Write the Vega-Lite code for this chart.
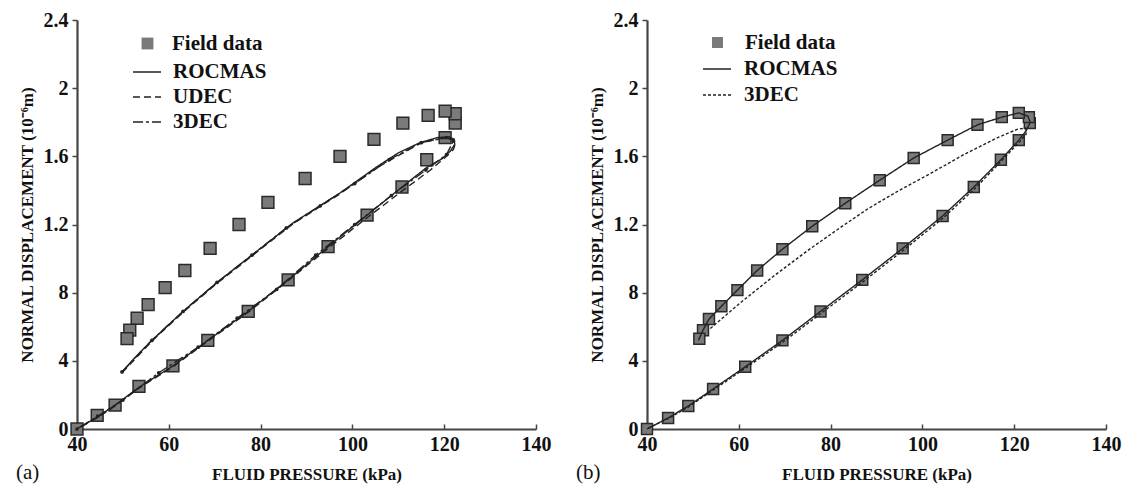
{
  "$schema": "https://vega.github.io/schema/vega-lite/v6.json",
  "background": "white",
  "padding": {"left": 16, "top": 10, "right": 5, "bottom": 5},
  "config": {
    "view": {"stroke": null},
    "font": "Liberation Serif",
    "axis": {
      "grid": false,
      "domainColor": "#444",
      "domainWidth": 2.2,
      "tickColor": "#444",
      "tickWidth": 1.5,
      "labelFont": "Liberation Serif",
      "labelFontWeight": "bold",
      "labelFontSize": 20,
      "labelColor": "#111",
      "labelOverlap": false,
      "labelFlush": false,
      "titleFont": "Liberation Serif",
      "titleFontWeight": "bold",
      "titleFontSize": 17,
      "titleColor": "#111"
    },
    "legend": {
      "labelFont": "Liberation Serif",
      "labelFontWeight": "bold",
      "labelFontSize": 21,
      "labelColor": "#111",
      "padding": 0,
      "rowPadding": 0,
      "labelLimit": 0
    }
  },
  "datasets": {
    "a": [
      {"series": "Field data", "i": 1, "P": 40, "D": 0},
      {"series": "Field data", "i": 2, "P": 44.4, "D": 0.08},
      {"series": "Field data", "i": 3, "P": 48.3, "D": 0.14},
      {"series": "Field data", "i": 4, "P": 53.5, "D": 0.25},
      {"series": "Field data", "i": 5, "P": 60.9, "D": 0.37},
      {"series": "Field data", "i": 6, "P": 68.5, "D": 0.52},
      {"series": "Field data", "i": 7, "P": 77.3, "D": 0.69},
      {"series": "Field data", "i": 8, "P": 86, "D": 0.875},
      {"series": "Field data", "i": 9, "P": 94.7, "D": 1.07},
      {"series": "Field data", "i": 10, "P": 103.2, "D": 1.255},
      {"series": "Field data", "i": 11, "P": 110.8, "D": 1.42},
      {"series": "Field data", "i": 12, "P": 116.2, "D": 1.58},
      {"series": "Field data", "i": 13, "P": 120.2, "D": 1.71},
      {"series": "Field data", "i": 14, "P": 122.4, "D": 1.795},
      {"series": "Field data", "i": 15, "P": 122.4, "D": 1.85},
      {"series": "Field data", "i": 16, "P": 120.2, "D": 1.865},
      {"series": "Field data", "i": 17, "P": 116.5, "D": 1.84},
      {"series": "Field data", "i": 18, "P": 111, "D": 1.795},
      {"series": "Field data", "i": 19, "P": 104.7, "D": 1.7},
      {"series": "Field data", "i": 20, "P": 97.3, "D": 1.6},
      {"series": "Field data", "i": 21, "P": 89.7, "D": 1.47},
      {"series": "Field data", "i": 22, "P": 81.6, "D": 1.33},
      {"series": "Field data", "i": 23, "P": 75.3, "D": 1.2},
      {"series": "Field data", "i": 24, "P": 69, "D": 1.06},
      {"series": "Field data", "i": 25, "P": 63.5, "D": 0.93},
      {"series": "Field data", "i": 26, "P": 59.2, "D": 0.83},
      {"series": "Field data", "i": 27, "P": 55.5, "D": 0.73},
      {"series": "Field data", "i": 28, "P": 53.1, "D": 0.65},
      {"series": "Field data", "i": 29, "P": 51.5, "D": 0.58},
      {"series": "Field data", "i": 30, "P": 50.9, "D": 0.53},

      {"series": "ROCMAS", "i": 1, "P": 49.8, "D": 0.335},
      {"series": "ROCMAS", "i": 2, "P": 53, "D": 0.43},
      {"series": "ROCMAS", "i": 3, "P": 56.3, "D": 0.52},
      {"series": "ROCMAS", "i": 4, "P": 63.1, "D": 0.69},
      {"series": "ROCMAS", "i": 5, "P": 70.5, "D": 0.86},
      {"series": "ROCMAS", "i": 6, "P": 78.1, "D": 1.02},
      {"series": "ROCMAS", "i": 7, "P": 87.1, "D": 1.21},
      {"series": "ROCMAS", "i": 8, "P": 97.3, "D": 1.385},
      {"series": "ROCMAS", "i": 9, "P": 105.4, "D": 1.54},
      {"series": "ROCMAS", "i": 10, "P": 110, "D": 1.62},
      {"series": "ROCMAS", "i": 11, "P": 114.7, "D": 1.68},
      {"series": "ROCMAS", "i": 12, "P": 118.5, "D": 1.71},
      {"series": "ROCMAS", "i": 13, "P": 121, "D": 1.715},
      {"series": "ROCMAS", "i": 14, "P": 122.2, "D": 1.7},
      {"series": "ROCMAS", "i": 15, "P": 122.3, "D": 1.67},
      {"series": "ROCMAS", "i": 16, "P": 121.3, "D": 1.63},
      {"series": "ROCMAS", "i": 17, "P": 119.5, "D": 1.585},
      {"series": "ROCMAS", "i": 18, "P": 116.2, "D": 1.535},
      {"series": "ROCMAS", "i": 19, "P": 110.8, "D": 1.42},
      {"series": "ROCMAS", "i": 20, "P": 103.2, "D": 1.255},
      {"series": "ROCMAS", "i": 21, "P": 94.7, "D": 1.07},
      {"series": "ROCMAS", "i": 22, "P": 86, "D": 0.875},
      {"series": "ROCMAS", "i": 23, "P": 77.3, "D": 0.69},
      {"series": "ROCMAS", "i": 24, "P": 68.5, "D": 0.52},
      {"series": "ROCMAS", "i": 25, "P": 60.9, "D": 0.37},
      {"series": "ROCMAS", "i": 26, "P": 53.5, "D": 0.245},
      {"series": "ROCMAS", "i": 27, "P": 48.3, "D": 0.14},
      {"series": "ROCMAS", "i": 28, "P": 44.4, "D": 0.07},
      {"series": "ROCMAS", "i": 29, "P": 40, "D": 0},

      {"series": "UDEC", "i": 1, "P": 49.8, "D": 0.33},
      {"series": "UDEC", "i": 2, "P": 56.3, "D": 0.515},
      {"series": "UDEC", "i": 3, "P": 63.1, "D": 0.685},
      {"series": "UDEC", "i": 4, "P": 70.5, "D": 0.855},
      {"series": "UDEC", "i": 5, "P": 78.1, "D": 1.015},
      {"series": "UDEC", "i": 6, "P": 87.1, "D": 1.205},
      {"series": "UDEC", "i": 7, "P": 97.3, "D": 1.38},
      {"series": "UDEC", "i": 8, "P": 105.4, "D": 1.535},
      {"series": "UDEC", "i": 9, "P": 114.7, "D": 1.675},
      {"series": "UDEC", "i": 10, "P": 119, "D": 1.705},
      {"series": "UDEC", "i": 11, "P": 121.5, "D": 1.705},
      {"series": "UDEC", "i": 12, "P": 122.5, "D": 1.68},
      {"series": "UDEC", "i": 13, "P": 122, "D": 1.64},
      {"series": "UDEC", "i": 14, "P": 120.5, "D": 1.6},
      {"series": "UDEC", "i": 15, "P": 117, "D": 1.52},
      {"series": "UDEC", "i": 16, "P": 111, "D": 1.4},
      {"series": "UDEC", "i": 17, "P": 103.2, "D": 1.24},
      {"series": "UDEC", "i": 18, "P": 94.7, "D": 1.06},
      {"series": "UDEC", "i": 19, "P": 86, "D": 0.87},
      {"series": "UDEC", "i": 20, "P": 77.3, "D": 0.685},
      {"series": "UDEC", "i": 21, "P": 68.5, "D": 0.515},
      {"series": "UDEC", "i": 22, "P": 60.9, "D": 0.365},
      {"series": "UDEC", "i": 23, "P": 53.5, "D": 0.24},
      {"series": "UDEC", "i": 24, "P": 48.3, "D": 0.135},
      {"series": "UDEC", "i": 25, "P": 44.4, "D": 0.065},
      {"series": "UDEC", "i": 26, "P": 40, "D": 0},

      {"series": "3DEC", "i": 1, "P": 49.8, "D": 0.335},
      {"series": "3DEC", "i": 2, "P": 56.3, "D": 0.52},
      {"series": "3DEC", "i": 3, "P": 63.1, "D": 0.69},
      {"series": "3DEC", "i": 4, "P": 70.5, "D": 0.86},
      {"series": "3DEC", "i": 5, "P": 78.1, "D": 1.02},
      {"series": "3DEC", "i": 6, "P": 85.6, "D": 1.18},
      {"series": "3DEC", "i": 7, "P": 93, "D": 1.31},
      {"series": "3DEC", "i": 8, "P": 100.5, "D": 1.44},
      {"series": "3DEC", "i": 9, "P": 108, "D": 1.58},
      {"series": "3DEC", "i": 10, "P": 115, "D": 1.68},
      {"series": "3DEC", "i": 11, "P": 120.5, "D": 1.71},
      {"series": "3DEC", "i": 12, "P": 122, "D": 1.69},
      {"series": "3DEC", "i": 13, "P": 120.5, "D": 1.61},
      {"series": "3DEC", "i": 14, "P": 116, "D": 1.52},
      {"series": "3DEC", "i": 15, "P": 108.5, "D": 1.37},
      {"series": "3DEC", "i": 16, "P": 100.5, "D": 1.2},
      {"series": "3DEC", "i": 17, "P": 92, "D": 1.02},
      {"series": "3DEC", "i": 18, "P": 83.5, "D": 0.82},
      {"series": "3DEC", "i": 19, "P": 74.9, "D": 0.65},
      {"series": "3DEC", "i": 20, "P": 66.4, "D": 0.48},
      {"series": "3DEC", "i": 21, "P": 57.8, "D": 0.33},
      {"series": "3DEC", "i": 22, "P": 50, "D": 0.17},
      {"series": "3DEC", "i": 23, "P": 44.5, "D": 0.075},
      {"series": "3DEC", "i": 24, "P": 40, "D": 0}
    ],
    "b": [
      {"series": "Field data", "i": 1, "P": 40, "D": 0},
      {"series": "Field data", "i": 2, "P": 44.6, "D": 0.065},
      {"series": "Field data", "i": 3, "P": 49, "D": 0.135},
      {"series": "Field data", "i": 4, "P": 54.4, "D": 0.235},
      {"series": "Field data", "i": 5, "P": 61.4, "D": 0.365},
      {"series": "Field data", "i": 6, "P": 69.5, "D": 0.52},
      {"series": "Field data", "i": 7, "P": 77.8, "D": 0.69},
      {"series": "Field data", "i": 8, "P": 86.9, "D": 0.875},
      {"series": "Field data", "i": 9, "P": 95.7, "D": 1.06},
      {"series": "Field data", "i": 10, "P": 104.4, "D": 1.25},
      {"series": "Field data", "i": 11, "P": 111.2, "D": 1.42},
      {"series": "Field data", "i": 12, "P": 117.1, "D": 1.58},
      {"series": "Field data", "i": 13, "P": 121, "D": 1.695},
      {"series": "Field data", "i": 14, "P": 123.4, "D": 1.795},
      {"series": "Field data", "i": 15, "P": 123.2, "D": 1.83},
      {"series": "Field data", "i": 16, "P": 121, "D": 1.855},
      {"series": "Field data", "i": 17, "P": 117.3, "D": 1.83},
      {"series": "Field data", "i": 18, "P": 112, "D": 1.785},
      {"series": "Field data", "i": 19, "P": 105.5, "D": 1.695},
      {"series": "Field data", "i": 20, "P": 98.1, "D": 1.59},
      {"series": "Field data", "i": 21, "P": 90.7, "D": 1.46},
      {"series": "Field data", "i": 22, "P": 83.2, "D": 1.325},
      {"series": "Field data", "i": 23, "P": 76, "D": 1.19},
      {"series": "Field data", "i": 24, "P": 69.5, "D": 1.055},
      {"series": "Field data", "i": 25, "P": 64, "D": 0.93},
      {"series": "Field data", "i": 26, "P": 59.7, "D": 0.815},
      {"series": "Field data", "i": 27, "P": 56.2, "D": 0.72},
      {"series": "Field data", "i": 28, "P": 53.5, "D": 0.645},
      {"series": "Field data", "i": 29, "P": 52.2, "D": 0.58},
      {"series": "Field data", "i": 30, "P": 51.4, "D": 0.53},

      {"series": "ROCMAS", "i": 1, "P": 51.2, "D": 0.52},
      {"series": "ROCMAS", "i": 2, "P": 52.2, "D": 0.58},
      {"series": "ROCMAS", "i": 3, "P": 53.5, "D": 0.645},
      {"series": "ROCMAS", "i": 4, "P": 56.2, "D": 0.72},
      {"series": "ROCMAS", "i": 5, "P": 59.7, "D": 0.815},
      {"series": "ROCMAS", "i": 6, "P": 64, "D": 0.93},
      {"series": "ROCMAS", "i": 7, "P": 69.5, "D": 1.055},
      {"series": "ROCMAS", "i": 8, "P": 76, "D": 1.19},
      {"series": "ROCMAS", "i": 9, "P": 83.2, "D": 1.325},
      {"series": "ROCMAS", "i": 10, "P": 90.7, "D": 1.46},
      {"series": "ROCMAS", "i": 11, "P": 98.1, "D": 1.59},
      {"series": "ROCMAS", "i": 12, "P": 105.5, "D": 1.695},
      {"series": "ROCMAS", "i": 13, "P": 112, "D": 1.785},
      {"series": "ROCMAS", "i": 14, "P": 117.3, "D": 1.83},
      {"series": "ROCMAS", "i": 15, "P": 121, "D": 1.855},
      {"series": "ROCMAS", "i": 16, "P": 123, "D": 1.835},
      {"series": "ROCMAS", "i": 17, "P": 123.5, "D": 1.8},
      {"series": "ROCMAS", "i": 18, "P": 122.6, "D": 1.75},
      {"series": "ROCMAS", "i": 19, "P": 121, "D": 1.695},
      {"series": "ROCMAS", "i": 20, "P": 117.1, "D": 1.58},
      {"series": "ROCMAS", "i": 21, "P": 111.2, "D": 1.42},
      {"series": "ROCMAS", "i": 22, "P": 104.4, "D": 1.25},
      {"series": "ROCMAS", "i": 23, "P": 95.7, "D": 1.06},
      {"series": "ROCMAS", "i": 24, "P": 86.9, "D": 0.875},
      {"series": "ROCMAS", "i": 25, "P": 77.8, "D": 0.69},
      {"series": "ROCMAS", "i": 26, "P": 69.5, "D": 0.52},
      {"series": "ROCMAS", "i": 27, "P": 61.4, "D": 0.365},
      {"series": "ROCMAS", "i": 28, "P": 54.4, "D": 0.235},
      {"series": "ROCMAS", "i": 29, "P": 49, "D": 0.135},
      {"series": "ROCMAS", "i": 30, "P": 44.6, "D": 0.065},
      {"series": "ROCMAS", "i": 31, "P": 40, "D": 0},

      {"series": "3DEC", "i": 1, "P": 53.8, "D": 0.59},
      {"series": "3DEC", "i": 2, "P": 60.3, "D": 0.74},
      {"series": "3DEC", "i": 3, "P": 67.5, "D": 0.895},
      {"series": "3DEC", "i": 4, "P": 74.9, "D": 1.045},
      {"series": "3DEC", "i": 5, "P": 82, "D": 1.18},
      {"series": "3DEC", "i": 6, "P": 88, "D": 1.29},
      {"series": "3DEC", "i": 7, "P": 94.6, "D": 1.395},
      {"series": "3DEC", "i": 8, "P": 101.8, "D": 1.5},
      {"series": "3DEC", "i": 9, "P": 109, "D": 1.61},
      {"series": "3DEC", "i": 10, "P": 116.4, "D": 1.71},
      {"series": "3DEC", "i": 11, "P": 120.8, "D": 1.76},
      {"series": "3DEC", "i": 12, "P": 122.5, "D": 1.765},
      {"series": "3DEC", "i": 13, "P": 122.6, "D": 1.73},
      {"series": "3DEC", "i": 14, "P": 121.3, "D": 1.69},
      {"series": "3DEC", "i": 15, "P": 117.3, "D": 1.575},
      {"series": "3DEC", "i": 16, "P": 111.4, "D": 1.41},
      {"series": "3DEC", "i": 17, "P": 104.6, "D": 1.24},
      {"series": "3DEC", "i": 18, "P": 95.9, "D": 1.05},
      {"series": "3DEC", "i": 19, "P": 87.1, "D": 0.865},
      {"series": "3DEC", "i": 20, "P": 78, "D": 0.68},
      {"series": "3DEC", "i": 21, "P": 69.7, "D": 0.512},
      {"series": "3DEC", "i": 22, "P": 61.6, "D": 0.36},
      {"series": "3DEC", "i": 23, "P": 54.6, "D": 0.232},
      {"series": "3DEC", "i": 24, "P": 49.2, "D": 0.133},
      {"series": "3DEC", "i": 25, "P": 44.8, "D": 0.064},
      {"series": "3DEC", "i": 26, "P": 40.2, "D": 0.005}
    ]
  },
  "spacing": 111,
  "bounds": "flush",
  "resolve": {
    "scale": {"shape": "independent", "strokeDash": "independent"},
    "legend": {"shape": "independent", "strokeDash": "independent"}
  },
  "hconcat": [
    {
      "width": 459,
      "height": 409,
      "data": {"name": "a"},
      "title": {"text": "(a)", "orient": "bottom", "anchor": "start", "frame": "bounds", "offset": -20, "dx": -2, "font": "Liberation Serif", "fontSize": 21, "fontWeight": "normal", "color": "#111"},
      "layer": [
        {
          "transform": [{"filter": "datum.series == 'Field data'"}],
          "mark": {"type": "point", "filled": true, "size": 140, "fill": "#7a7a7a", "stroke": "#2a2a2a", "strokeWidth": 1.5, "opacity": 1},
          "encoding": {
            "x": {"field": "P", "type": "quantitative", "scale": {"domain": [40, 140], "nice": false, "zero": false},
              "axis": {"title": "FLUID PRESSURE (kPa)", "values": [40, 60, 80, 100, 120, 140], "tickSize": -5, "labelPadding": 10, "titlePadding": 12}},
            "y": {"field": "D", "type": "quantitative", "scale": {"domain": [0, 2.4], "nice": false},
              "axis": {"title": "NORMAL DISPLACEMENT (10⁻⁶m)", "values": [0, 0.2, 0.4, 0.6, 0.8, 1, 1.2, 1.4, 1.6, 1.8, 2, 2.2, 2.4], "tickSize": 5, "labelPadding": 4, "titlePadding": 7,
                "labelExpr": "round(datum.value*10)==0?'0':round(datum.value*10)==4?'4':round(datum.value*10)==8?'8':round(datum.value*10)==12?'1.2':round(datum.value*10)==16?'1.6':round(datum.value*10)==20?'2':round(datum.value*10)==24?'2.4':''"}},
            "shape": {"field": "series", "type": "nominal", "scale": {"domain": ["Field data"], "range": ["square"]},
              "legend": {"title": null, "orient": "none", "legendX": 60, "legendY": 13, "symbolType": "square", "symbolSize": 140, "symbolFillColor": "#7a7a7a", "symbolStrokeColor": "#2a2a2a", "symbolStrokeWidth": 1.5, "labelOffset": 14}}
          }
        },
        {
          "transform": [{"filter": "datum.series != 'Field data'"}],
          "mark": {"type": "line", "strokeWidth": 1.4, "color": "#222"},
          "encoding": {
            "x": {"field": "P", "type": "quantitative"},
            "y": {"field": "D", "type": "quantitative"},
            "order": {"field": "i", "type": "quantitative"},
            "strokeDash": {"field": "series", "type": "nominal", "scale": {"domain": ["ROCMAS", "UDEC", "3DEC"], "range": [[1, 0], [7, 4], [10, 3, 3, 3]]},
              "legend": {"title": null, "orient": "none", "legendX": 55, "legendY": 37, "symbolType": "stroke", "symbolSize": 784, "symbolStrokeColor": "#222", "symbolStrokeWidth": 1.5, "labelOffset": 11, "rowPadding": -3}}
          }
        },
        {
          "transform": [{"filter": "datum.series == '3DEC'"}],
          "mark": {"type": "point", "filled": true, "size": 14, "color": "#222", "opacity": 1},
          "encoding": {
            "x": {"field": "P", "type": "quantitative"},
            "y": {"field": "D", "type": "quantitative"}
          }
        }
      ]
    },
    {
      "width": 459,
      "height": 409,
      "data": {"name": "b"},
      "title": {"text": "(b)", "orient": "bottom", "anchor": "start", "frame": "bounds", "offset": -20, "dx": -12, "font": "Liberation Serif", "fontSize": 21, "fontWeight": "normal", "color": "#111"},
      "layer": [
        {
          "transform": [{"filter": "datum.series == 'Field data'"}],
          "mark": {"type": "point", "filled": true, "size": 120, "fill": "#7a7a7a", "stroke": "#2a2a2a", "strokeWidth": 1.5, "opacity": 1},
          "encoding": {
            "x": {"field": "P", "type": "quantitative", "scale": {"domain": [40, 140], "nice": false, "zero": false},
              "axis": {"title": "FLUID PRESSURE (kPa)", "values": [40, 60, 80, 100, 120, 140], "tickSize": -5, "labelPadding": 10, "titlePadding": 12}},
            "y": {"field": "D", "type": "quantitative", "scale": {"domain": [0, 2.4], "nice": false},
              "axis": {"title": "NORMAL DISPLACEMENT (10⁻⁶m)", "values": [0, 0.2, 0.4, 0.6, 0.8, 1, 1.2, 1.4, 1.6, 1.8, 2, 2.2, 2.4], "tickSize": 5, "labelPadding": 4, "titlePadding": 7,
                "labelExpr": "round(datum.value*10)==0?'0':round(datum.value*10)==4?'4':round(datum.value*10)==8?'8':round(datum.value*10)==12?'1.2':round(datum.value*10)==16?'1.6':round(datum.value*10)==20?'2':round(datum.value*10)==24?'2.4':''"}},
            "shape": {"field": "series", "type": "nominal", "scale": {"domain": ["Field data"], "range": ["square"]},
              "legend": {"title": null, "orient": "none", "legendX": 60, "legendY": 12, "symbolType": "square", "symbolSize": 120, "symbolFillColor": "#7a7a7a", "symbolStrokeColor": "#2a2a2a", "symbolStrokeWidth": 1.5, "labelOffset": 17}}
          }
        },
        {
          "transform": [{"filter": "datum.series != 'Field data'"}],
          "mark": {"type": "line", "strokeWidth": 1.4, "color": "#222"},
          "encoding": {
            "x": {"field": "P", "type": "quantitative"},
            "y": {"field": "D", "type": "quantitative"},
            "order": {"field": "i", "type": "quantitative"},
            "strokeDash": {"field": "series", "type": "nominal", "scale": {"domain": ["ROCMAS", "3DEC"], "range": [[1, 0], [3, 2]]},
              "legend": {"title": null, "orient": "none", "legendX": 55, "legendY": 34, "symbolType": "stroke", "symbolSize": 784, "symbolStrokeColor": "#222", "symbolStrokeWidth": 1.5, "labelOffset": 12, "rowPadding": 1}}
          }
        }
      ]
    }
  ]
}
